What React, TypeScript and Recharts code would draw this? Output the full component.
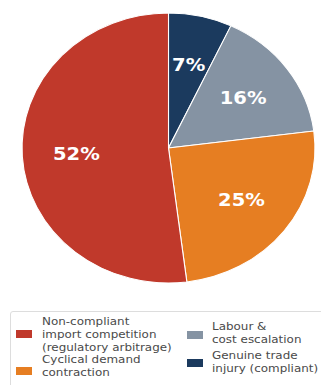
import React from "react";
import { PieChart, Pie, Cell } from "recharts";

const categories = [
  "Genuine trade injury (compliant)",
  "Labour & cost escalation",
  "Cyclical demand contraction",
  "Non-compliant import competition (regulatory arbitrage)",
];
const shares = [7, 16, 25, 52];
const colors = ["#1b3a5e", "#8593a3", "#e67e22", "#c0392b"];

const data = categories.map((name, i) => ({ name, value: shares[i] }));

const RAD = Math.PI / 180;
const renderLabel = (props: any) => {
  const { cx, cy, midAngle, outerRadius, value } = props;
  const r = outerRadius * 0.63;
  const x = cx + r * Math.cos(-midAngle * RAD);
  const y = cy + r * Math.sin(-midAngle * RAD);
  return (
    <text
      x={x}
      y={y}
      fill="#ffffff"
      textAnchor="middle"
      dominantBaseline="central"
      fontFamily="DejaVu Sans"
      fontWeight="bold"
      fontSize={18}
    >
      {`${value}%`}
    </text>
  );
};

const legendItems = [
  { lines: ["Non-compliant", "import competition", "(regulatory arbitrage)"], color: colors[3], sx: 16, sy: 330, tx: 42, ty: 315 },
  { lines: ["Cyclical demand", "contraction"], color: colors[2], sx: 16, sy: 367, tx: 42, ty: 353 },
  { lines: ["Labour &", "cost escalation"], color: colors[1], sx: 187, sy: 331, tx: 212, ty: 320 },
  { lines: ["Genuine trade", "injury (compliant)"], color: colors[0], sx: 187, sy: 359, tx: 212, ty: 349 },
];

export default function App() {
  return (
    <div style={{ position: "absolute", left: 0, top: 0, width: 321, height: 385, overflow: "hidden", background: "#fff" }}>
      <div style={{ position: "absolute", left: 0, top: 0, transform: "scaleX(1.085)", transformOrigin: "168.5px 148px" }}>
        <PieChart width={321} height={300} margin={{ top: 0, right: 0, bottom: 0, left: 0 }}>
          <Pie
            data={data}
            dataKey="value"
            nameKey="name"
            cx={168.5}
            cy={148}
            outerRadius={135}
            startAngle={90}
            endAngle={-270}
            stroke="#ffffff"
            strokeWidth={1}
            label={renderLabel}
            labelLine={false}
            isAnimationActive={false}
          >
            {data.map((d, i) => (
              <Cell key={d.name} fill={colors[i]} />
            ))}
          </Pie>
        </PieChart>
      </div>
      <div
        style={{
          position: "absolute",
          left: 10,
          top: 311,
          width: 320,
          height: 80,
          border: "1px solid #dddddd",
          borderRadius: 3,
          boxSizing: "border-box",
        }}
      />
      {legendItems.map((it) => (
        <React.Fragment key={it.lines.join(" ")}>
          <div style={{ position: "absolute", left: it.sx, top: it.sy, width: 16, height: 8, background: it.color }} />
          <div
            style={{
              position: "absolute",
              left: it.tx,
              top: it.ty,
              fontFamily: "DejaVu Sans",
              fontSize: 11,
              lineHeight: "13px",
              color: "#4a4a4a",
              whiteSpace: "nowrap",
              transform: "scaleX(1.085)",
              transformOrigin: "0 0",
            }}
          >
            {it.lines.map((l) => (
              <div key={l}>{l}</div>
            ))}
          </div>
        </React.Fragment>
      ))}
    </div>
  );
}
